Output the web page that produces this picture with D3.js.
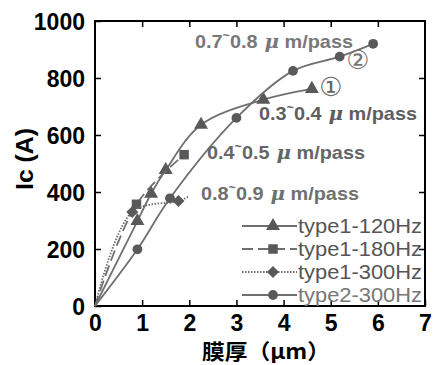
<!DOCTYPE html>
<html>
<head>
<meta charset="utf-8">
<script src="https://cdn.jsdelivr.net/npm/d3@7"></script>
<style>
  body { margin: 0; background: #fff; }
  svg { display: block; }
</style>
</head>
<body>
<div id="chart"></div>
<script>
// values: thickness (um) vs Ic (A)
const xTicks = [0, 1, 2, 3, 4, 5, 6, 7];
const yTicks = [0, 200, 400, 600, 800, 1000];

const type1_120 = [[0, 0], [0.9, 298], [1.19, 394], [1.5, 477], [2.25, 636], [3.57, 724], [4.6, 762]];
const type1_180 = [[0, 0], [0.88, 357], [1.89, 531]];
const type1_300 = [[0, 0], [0.79, 330], [1.77, 368], [2.0, 385]];
const type2_300 = [[0, 0], [0.9, 199], [1.59, 378], [3.0, 660], [4.2, 825], [5.19, 875], [5.9, 920]];

const seriesNames = ['type1-120Hz', 'type1-180Hz', 'type1-300Hz', 'type2-300Hz'];
const passLabels = ['0.7~0.8', '0.3~0.4', '0.4~0.5', '0.8~0.9'];

const W = 438, H = 365;
const svg = d3.select('#chart').append('svg').attr('width', W).attr('height', H);

const x = d3.scaleLinear().domain([0, 7]).range([95, 425]);
const y = d3.scaleLinear().domain([0, 1000]).range([306, 21]);

const lineCol = '#6f6f6f';
const markCol = '#595959';

// frame + inward ticks
svg.append('rect')
  .attr('x', x(0)).attr('y', y(1000))
  .attr('width', x(7) - x(0)).attr('height', y(0) - y(1000))
  .attr('fill', 'none').attr('stroke', '#000').attr('stroke-width', 2);

const gBottom = svg.append('g').attr('transform', `translate(0,${y(0)})`)
  .call(d3.axisBottom(x).tickValues(xTicks).tickSize(-6).tickPadding(9).tickFormat(d3.format('d')));
const gTop = svg.append('g').attr('transform', `translate(0,${y(1000)})`)
  .call(d3.axisTop(x).tickValues(xTicks.slice(1, -1)).tickSize(-6).tickFormat(''));
const gLeft = svg.append('g').attr('transform', `translate(${x(0)},0)`)
  .call(d3.axisLeft(y).tickValues(yTicks).tickSize(-6).tickPadding(10).tickFormat(d3.format('d')));
const gRight = svg.append('g').attr('transform', `translate(${x(7)},0)`)
  .call(d3.axisRight(y).tickValues(yTicks.slice(1, -1)).tickSize(-6).tickFormat(''));

[gBottom, gTop, gLeft, gRight].forEach(g => {
  g.select('.domain').remove();
  g.selectAll('.tick line').attr('stroke', '#000').attr('stroke-width', 1.5);
  g.selectAll('.tick text')
    .attr('fill', '#000')
    .style('font-family', '"Liberation Sans", Arial, sans-serif')
    .style('font-weight', 'bold')
    .style('font-size', '23px');
});
gLeft.selectAll('.tick text').attr('dy', '0.36em');
gBottom.selectAll('.tick text').attr('dy', '0.68em');

// axis titles
svg.append('text')
  .attr('x', 266).attr('y', 359)
  .attr('text-anchor', 'middle')
  .attr('textLength', 128).attr('lengthAdjust', 'spacingAndGlyphs')
  .style('font-family', '"Noto Sans CJK JP", sans-serif')
  .style('font-weight', 'bold').style('font-size', '21px')
  .text('膜厚（μm）');

svg.append('text')
  .attr('transform', 'translate(33,159) rotate(-90)')
  .attr('text-anchor', 'middle')
  .attr('textLength', 62).attr('lengthAdjust', 'spacingAndGlyphs')
  .style('font-family', '"Liberation Sans", Arial, sans-serif')
  .style('font-weight', 'bold').style('font-size', '23px')
  .text('Ic (A)');

// series
const line = d3.line().x(d => x(d[0])).y(d => y(d[1])).curve(d3.curveCatmullRom.alpha(0.5));

const series = [
  { data: type1_120, dash: null, shape: d3.symbolTriangle, size: 85, rot: 0 },
  { data: type1_180, dash: '11,5', shape: d3.symbolSquare, size: 90, rot: 0 },
  { data: type1_300, dash: '1.5,1.5', shape: d3.symbolSquare, size: 72, rot: 45 },
  { data: type2_300, dash: null, shape: d3.symbolCircle, size: 75, rot: 0 }
];

series.forEach(s => {
  svg.append('path')
    .attr('d', line(s.data))
    .attr('fill', 'none')
    .attr('stroke', lineCol)
    .attr('stroke-width', 1.8)
    .attr('stroke-dasharray', s.dash);
  const pts = s.data.filter(d => d[0] > 0 && !(s.data === type1_300 && d[0] === 2.0));
  svg.selectAll(null).data(pts).enter().append('path')
    .attr('transform', d => `translate(${x(d[0])},${y(d[1])}) rotate(${s.rot})`)
    .attr('d', d3.symbol().type(s.shape).size(s.size))
    .attr('fill', markCol);
});

// pass labels
function passLabel(txt, px, py, col) {
  const parts = txt.split('~');
  const t = svg.append('text')
    .attr('x', px).attr('y', py)
    .attr('fill', col)
    .attr('textLength', 158).attr('lengthAdjust', 'spacingAndGlyphs')
    .style('font-family', '"Liberation Sans", Arial, sans-serif')
    .style('font-weight', 'bold').style('font-size', '19px');
  t.append('tspan').text(parts[0]);
  t.append('tspan').attr('dy', -8).style('font-size', '12px').text('~');
  t.append('tspan').attr('dy', 8).text(parts[1]);
  t.append('tspan').style('font-style', 'italic').style('font-family', '"DejaVu Serif", serif').text(' μ');
  t.append('tspan').text(' m/pass');
  return t;
}
passLabel(passLabels[0], 195, 48, '#787878');
passLabel(passLabels[1], 259, 120, '#5e5e5e');
passLabel(passLabels[2], 207, 159, '#666');
passLabel(passLabels[3], 201, 200, '#707070');

// circled numbers
svg.append('text').attr('x', 358).attr('y', 69).attr('text-anchor', 'middle')
  .attr('fill', '#777').style('font-family', '"DejaVu Sans", "Noto Sans CJK JP", sans-serif')
  .style('font-size', '26px').text('②');
svg.append('text').attr('x', 331).attr('y', 96).attr('text-anchor', 'middle')
  .attr('fill', '#666').style('font-family', '"DejaVu Sans", "Noto Sans CJK JP", sans-serif')
  .style('font-size', '26px').text('①');

// legend
const legY = [226, 249, 272, 295];
const legCols = ['#555', '#555', '#555', '#777'];
seriesNames.forEach((name, i) => {
  const s = series[i];
  const g = svg.append('g').attr('transform', `translate(0,${legY[i]})`);
  g.append('line').attr('x1', 242).attr('x2', 297).attr('y1', 0).attr('y2', 0)
    .attr('stroke', lineCol).attr('stroke-width', 1.8).attr('stroke-dasharray', s.dash);
  g.append('path').attr('transform', `translate(273,0) rotate(${s.rot})`)
    .attr('d', d3.symbol().type(s.shape).size(s.size)).attr('fill', markCol);
  g.append('text').attr('x', 298).attr('y', 7)
    .attr('fill', legCols[i])
    .attr('textLength', 124).attr('lengthAdjust', 'spacingAndGlyphs')
    .style('font-family', '"Liberation Sans", Arial, sans-serif')
    .style('font-size', '20px')
    .text(name);
});
</script>
</body>
</html>
